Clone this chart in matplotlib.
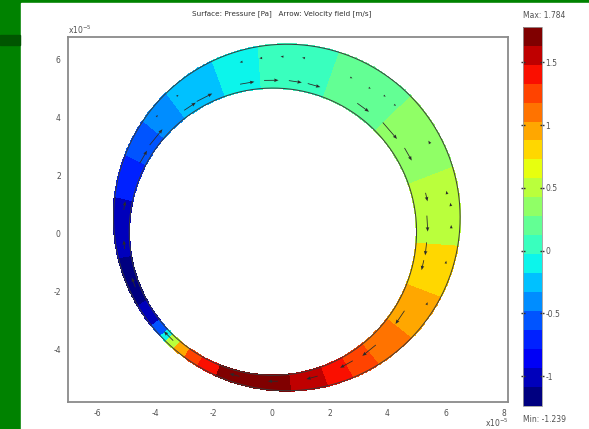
import numpy as np
import matplotlib
matplotlib.use('Agg')
import matplotlib.pyplot as plt
from matplotlib.colors import BoundaryNorm
from matplotlib.patches import Rectangle
import matplotlib.colorbar as mcolorbar

# ring geometry (units of 1e-5 m)
inner_c = (0.05, 0.05)
inner_r = 4.95
outer_c = (0.53, 0.54)
outer_r = 5.97

# pressure [Pa] per angular sector (degrees around the inner circle centre)
sector_edges = [-112, -83, -70, -61, -51, -37, -21, -4, 20, 45, 70, 95, 110,
                128, 140, 153, 168, 190, 209, 218, 223, 226, 230, 235, 241, 248]
sector_p = [1.70, 1.53, 1.36, 1.18, 1.06, 0.94, 0.76, 0.55, 0.35, 0.13, 0.0,
            -0.12, -0.27, -0.36, -0.53, -0.77, -1.08, -1.2, -0.95, -0.5, -0.05,
            0.55, 0.9, 1.2, 1.45]
p_min, p_max = -1.239, 1.784

# velocity arrows: angle, position across the gap (0 inner, 1 outer), clockwise speed
arrow_ang = [99.8, 90.6, 81.5, 74.3, 117, 123.5, 141, 150, 54, 40.8, 29.8, 12.7,
             3, -6.4, -12.6, -34, -51, -61, -75, -90, -105, 225, 200, 185, 170,
             100.6, 94, 87, 80, 63, 56, 50.5, 46, 29.8, 12.7, 8.7, 1.6, -10,
             -25, 125, 135]
arrow_frac = [0.18, 0.18, 0.18, 0.18, 0.2, 0.2, 0.25, 0.25, 0.2, 0.22, 0.25, 0.3,
              0.25, 0.25, 0.25, 0.3, 0.35, 0.35, 0.4, 0.4, 0.4, 0.4, 0.4, 0.4, 0.4,
              0.72, 0.72, 0.72, 0.72, 0.6, 0.6, 0.65, 0.65, 0.75, 0.75, 0.8, 0.8,
              0.8, 0.75, 0.7, 0.7]
arrow_speed = [0.5, 0.5, 0.45, 0.45, 0.6, 0.48, 0.7, 0.5, 0.5, 0.75, 0.5, 0.3,
               0.55, 0.45, 0.35, 0.55, 0.6, 0.5, 0.4, 0.35, 0.35, 0.45, 0.35, 0.3, 0.3,
               -0.1, -0.1, -0.1, -0.1, 0.08, 0.08, 0.08, 0.08, -0.12, -0.12, -0.12,
               -0.12, -0.1, -0.1, 0.08, 0.08]

xticks = [-6, -4, -2, 0, 2, 4, 6, 8]
yticks = [-4, -2, 0, 2, 4, 6]
cticks = [-1, -0.5, 0, 0.5, 1, 1.5]


def ring_points(ang_deg, frac):
    a = np.radians(np.asarray(ang_deg, dtype=float))
    ux, uy = np.cos(a), np.sin(a)
    x0 = inner_c[0] + inner_r * ux
    y0 = inner_c[1] + inner_r * uy
    dx, dy = x0 - outer_c[0], y0 - outer_c[1]
    b = dx * ux + dy * uy
    t = -b + np.sqrt(b * b - (dx * dx + dy * dy) + outer_r ** 2)
    f = np.asarray(frac, dtype=float)
    return x0 + f * t * ux, y0 + f * t * uy


W, H = 589, 429
fig = plt.figure(figsize=(W / 100, H / 100), dpi=100, facecolor='#008200')
fig.patches.append(Rectangle((21 / W, 0), 1 - 21 / W, 1 - 3.3 / H,
                             transform=fig.transFigure, color='white', zorder=-10))
fig.patches.append(Rectangle((0, 1 - 45 / H), 20 / W, 10 / H,
                             transform=fig.transFigure, color='#005500', zorder=-10))

ax = fig.add_axes([67.7 / W, 1 - 402.3 / H, 440.3 / W, 365.6 / H])
ax.set_xlim(-7.02, 8.15)
ax.set_ylim(-5.83, 6.77)
ax.patch.set_alpha(0)

levels = np.linspace(p_min, p_max, 21)
cmap = plt.get_cmap('jet')
norm = BoundaryNorm(levels, cmap.N)

# pressure surface
th = np.linspace(sector_edges[0], sector_edges[-1], 721)
mid = 0.5 * (th[1:] + th[:-1])
idx = np.searchsorted(sector_edges, mid) - 1
C = np.array(sector_p)[idx][None, :]
xi, yi = ring_points(th, 0.0)
xo, yo = ring_points(th, 1.0)
X = np.vstack([xi, xo])
Y = np.vstack([yi, yo])
ax.pcolormesh(X, Y, C, cmap=cmap, norm=norm, shading='flat',
              edgecolors='face', linewidth=0.3)

# boundaries
ax.plot(np.append(xi, xi[0]), np.append(yi, yi[0]), color='#3a3a3a', lw=0.7)
ax.plot(np.append(xo, xo[0]), np.append(yo, yo[0]), color='#3a3a3a', lw=0.7)

# velocity arrows
ax_x, ax_y = ring_points(arrow_ang, arrow_frac)
a = np.radians(arrow_ang)
sp = np.array(arrow_speed)
U = sp * np.sin(a)
V = -sp * np.cos(a)
ax.quiver(ax_x, ax_y, U, V, angles='xy', scale_units='xy', scale=1,
          pivot='middle', color='#2a2a2a', width=0.0018, headwidth=4.5,
          headlength=5.5, headaxislength=5, zorder=3)

ax.set_xticks(xticks)
ax.set_yticks(yticks)
ax.set_xticklabels([str(v) for v in xticks])
ax.set_yticklabels([str(v) for v in yticks])
ax.tick_params(length=0, labelsize=5.5, labelcolor='#505050', pad=5)
for s in ax.spines.values():
    s.set_color('#8a8a8a')
    s.set_linewidth(1.3)

fig.text(68 / W, 1 - 36 / H, r'x10$^{-5}$', fontsize=5.5, color='#505050',
         ha='left', va='bottom')
fig.text(485 / W, 1 - 423 / H, r'x10$^{-5}$', fontsize=5.5, color='#505050',
         ha='left', va='center')

fig.text(282 / W, 1 - 13.5 / H,
         'Surface: Pressure [Pa]   Arrow: Velocity field [m/s]',
         fontsize=5.2, color='#303030', ha='center', va='center')

# colorbar
cax = fig.add_axes([523 / W, 1 - 406 / H, 19 / W, 379.3 / H])
cb = mcolorbar.ColorbarBase(cax, cmap=cmap, norm=norm, boundaries=levels,
                            ticks=cticks, orientation='vertical')
cb.outline.set_edgecolor('#9a9a9a')
cb.outline.set_linewidth(0.6)
cax.set_yticklabels([str(v) for v in cticks])
cax.tick_params(axis='y', which='both', left=True, right=True, direction='inout',
                length=2.5, width=1, color='#333333', labelsize=5.5,
                labelcolor='#505050', pad=1)
cax.minorticks_off()

fig.text(523 / W, 1 - 16 / H, 'Max: 1.784', fontsize=5.5, color='#505050',
         ha='left', va='center')
fig.text(523 / W, 1 - 419 / H, 'Min: -1.239', fontsize=5.5, color='#505050',
         ha='left', va='center')

fig.savefig('out.png', dpi=100, facecolor=fig.get_facecolor())
